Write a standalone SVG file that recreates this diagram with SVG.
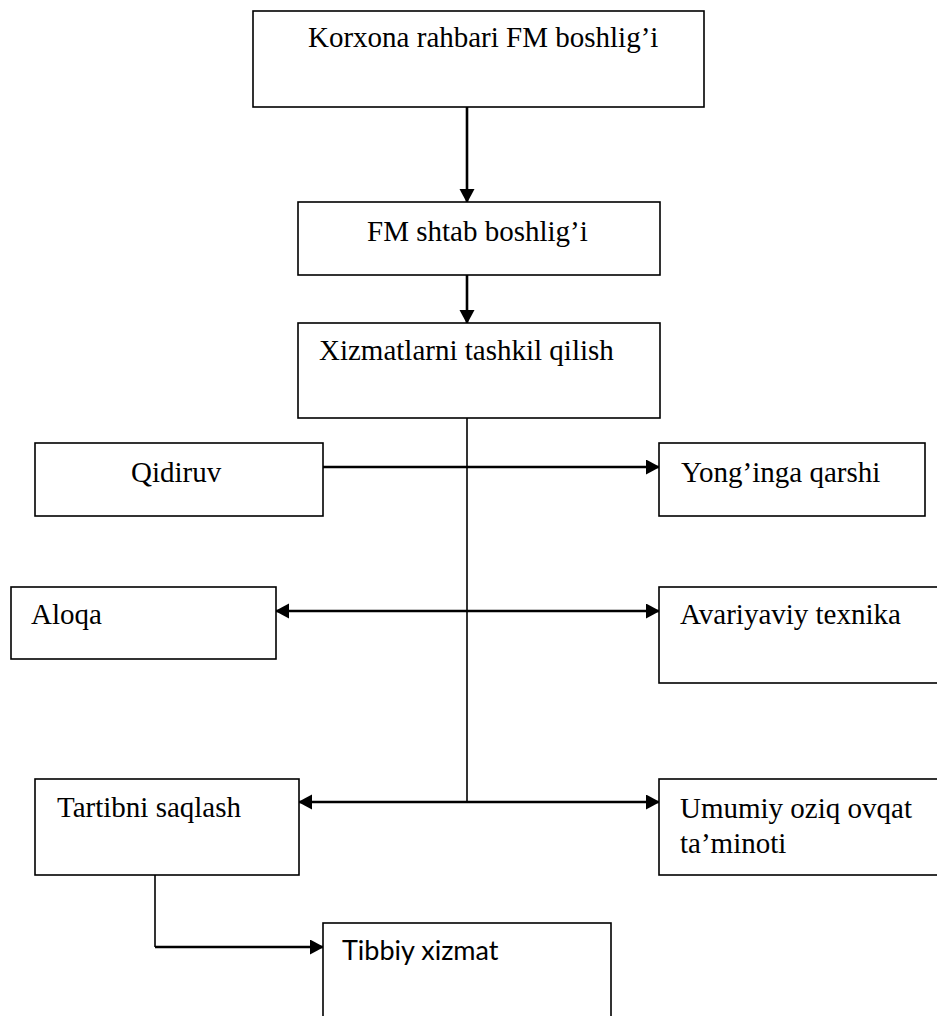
<svg xmlns="http://www.w3.org/2000/svg" width="937" height="1016" viewBox="0 0 937 1016">
<style>
.box{fill:#fff;stroke:#000;stroke-width:1.6}
.c{fill:none;stroke:#000;stroke-width:2.6}
.thin{fill:none;stroke:#000;stroke-width:1.6}
.t{font-family:'Liberation Serif','Times New Roman',serif;font-size:29px;fill:#000}
.s{font-family:Lato,'Open Sans',sans-serif;font-size:27px;fill:#000}
</style>
<defs>
<marker id="ah" markerUnits="userSpaceOnUse" markerWidth="14" markerHeight="16" refX="13" refY="7.5" orient="auto-start-reverse">
<path d="M0,0 L14,7.5 L0,15 z" fill="#000"/>
</marker>
</defs>
<rect width="937" height="1016" fill="#fff"/>
<g id="connectors">
<line class="c" x1="467" y1="107" x2="467" y2="202" marker-end="url(#ah)"/>
<line class="c" x1="467" y1="275" x2="467" y2="323" marker-end="url(#ah)"/>
<line class="thin" x1="467" y1="418" x2="467" y2="802"/>
<line class="c" x1="323" y1="467" x2="659" y2="467" marker-end="url(#ah)"/>
<line class="c" x1="276" y1="611" x2="659" y2="611" marker-start="url(#ah)" marker-end="url(#ah)"/>
<line class="c" x1="299" y1="802" x2="659" y2="802" marker-start="url(#ah)" marker-end="url(#ah)"/>
<path class="thin" d="M155,875 V947"/>
<path class="c" d="M155,947 H323" marker-end="url(#ah)"/>
</g>
<g id="korxona">
<rect class="box" x="253" y="11" width="451" height="96"/>
<text class="t" x="308" y="47">Korxona rahbari FM boshlig’i</text>
</g>
<g id="fm-shtab">
<rect class="box" x="298" y="202" width="362" height="73"/>
<text class="t" x="367" y="241">FM shtab boshlig’i</text>
</g>
<g id="xizmatlar">
<rect class="box" x="298" y="323" width="362" height="95"/>
<text class="t" x="319" y="360">Xizmatlarni tashkil qilish</text>
</g>
<g id="qidiruv">
<rect class="box" x="35" y="443" width="288" height="73"/>
<text class="t" x="131" y="482">Qidiruv</text>
</g>
<g id="yonginga">
<rect class="box" x="659" y="443" width="266" height="73"/>
<text class="t" x="681" y="482">Yong’inga qarshi</text>
</g>
<g id="aloqa">
<rect class="box" x="11" y="587" width="265" height="72"/>
<text class="t" x="31" y="624">Aloqa</text>
</g>
<g id="avariyaviy">
<rect class="box" x="659" y="587" width="290" height="96"/>
<text class="t" x="680" y="624">Avariyaviy texnika</text>
</g>
<g id="tartibni">
<rect class="box" x="35" y="779" width="264" height="96"/>
<text class="t" x="57" y="817">Tartibni saqlash</text>
</g>
<g id="umumiy">
<rect class="box" x="659" y="779" width="290" height="96"/>
<text class="t" x="680" y="818">Umumiy oziq ovqat</text>
<text class="t" x="680" y="853">ta’minoti</text>
</g>
<g id="tibbiy">
<rect class="box" x="323" y="923" width="288" height="110"/>
<text class="s" x="342" y="960">Tibbiy xizmat</text>
</g>
</svg>
